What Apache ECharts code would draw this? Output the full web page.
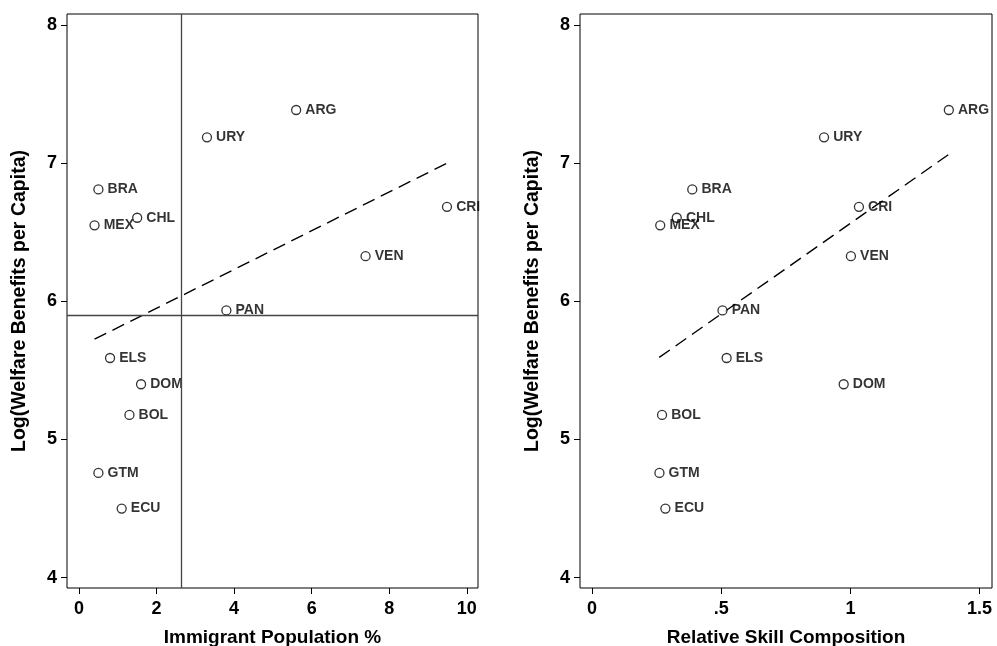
<!DOCTYPE html>
<html>
<head>
<meta charset="utf-8" />
<title>Welfare benefits</title>
<script src="https://cdn.jsdelivr.net/npm/echarts@6/dist/echarts.min.js"></script>
<style>
  html, body { margin: 0; padding: 0; background: #fff; }
  #chart { width: 997px; height: 646px; }
</style>
</head>
<body>
<div id="chart"></div>
<script>
// country codes
var countries = ['ARG', 'URY', 'BRA', 'CHL', 'MEX', 'CRI', 'VEN', 'PAN', 'ELS', 'DOM', 'BOL', 'GTM', 'ECU'];
// log welfare benefits per capita
var logWelfare = [7.385, 7.187, 6.81, 6.605, 6.55, 6.684, 6.327, 5.934, 5.59, 5.40, 5.178, 4.758, 4.50];
// immigrant population %
var immigPct = [5.60, 3.30, 0.50, 1.50, 0.40, 9.49, 7.39, 3.80, 0.80, 1.60, 1.30, 0.50, 1.10];
// relative skill composition
var skillComp = [1.381, 0.898, 0.388, 0.328, 0.264, 1.033, 1.002, 0.505, 0.521, 0.974, 0.271, 0.261, 0.284];

// fitted lines (endpoints)
var fitLeft = [[0.40, 5.726], [9.51, 7.003]];
var fitRight = [[0.260, 5.594], [1.381, 7.064]];

// reference lines on the left panel
var refX = 2.64;
var refY = 5.90;

var yTicks = [4, 5, 6, 7, 8];
var xTicksLeft = [0, 2, 4, 6, 8, 10];
var xTicksRight = [0, 0.5, 1, 1.5];

function pts(xs) {
  var res = [];
  for (var i = 0; i < countries.length; i++) {
    res.push({ name: countries[i], value: [xs[i], logWelfare[i]] });
  }
  return res;
}

var font = '"Liberation Sans", Arial, Helvetica, sans-serif';

function xAxis(idx, min, max, ticks, title, fmt) {
  return {
    type: 'value', gridIndex: idx, min: min, max: max,
    name: title, nameLocation: 'middle', nameGap: 40,
    nameTextStyle: { fontFamily: font, fontWeight: 'bold', fontSize: 19, color: '#000' },
    axisLine: { show: false, onZero: false },
    splitLine: { show: false },
    axisTick: { show: true, inside: false, customValues: ticks, length: 6, lineStyle: { color: '#000', width: 1 } },
    axisLabel: { customValues: ticks, fontFamily: font, fontWeight: 'bold', fontSize: 18, color: '#000', margin: 12, formatter: fmt }
  };
}

function yAxis(idx) {
  return {
    type: 'value', gridIndex: idx, min: 3.925, max: 8.08,
    name: 'Log(Welfare Benefits per Capita)', nameLocation: 'middle', nameGap: 37,
    nameTextStyle: { fontFamily: font, fontWeight: 'bold', fontSize: 19.5, color: '#000' },
    axisLine: { show: false, onZero: false },
    splitLine: { show: false },
    axisTick: { show: true, inside: false, customValues: yTicks, length: 6, lineStyle: { color: '#000', width: 1 } },
    axisLabel: { customValues: yTicks, fontFamily: font, fontWeight: 'bold', fontSize: 18, color: '#000', margin: 10 }
  };
}

function scatter(idx, xs, extra) {
  var s = {
    type: 'scatter', xAxisIndex: idx, yAxisIndex: idx,
    data: pts(xs),
    symbol: 'circle', symbolSize: 9,
    itemStyle: { color: '#fff', borderColor: '#000', borderWidth: 1.3 },
    label: {
      show: true, position: 'right', distance: 4, offset: [0, 2],
      formatter: '{b}', fontFamily: font, fontWeight: 'bold', fontSize: 14, color: '#000'
    },
    labelLayout: { hideOverlap: false },
    z: 3
  };
  if (extra) s.markLine = extra;
  return s;
}

function fit(idx, d) {
  return {
    type: 'line', xAxisIndex: idx, yAxisIndex: idx, data: d,
    symbol: 'none', silent: true,
    lineStyle: { color: '#000', width: 1.4, type: [13, 7] }, z: 2
  };
}

var chart = echarts.init(document.getElementById('chart'));
chart.setOption({
  animation: false,
  backgroundColor: '#fff',
  grid: [
    { left: 67, right: 519, top: 14, bottom: 58, show: true, borderColor: '#000', borderWidth: 1, backgroundColor: 'transparent', outerBoundsMode: 'none', containLabel: false },
    { left: 580, right: 5, top: 14, bottom: 58, show: true, borderColor: '#000', borderWidth: 1, backgroundColor: 'transparent', outerBoundsMode: 'none', containLabel: false }
  ],
  xAxis: [
    xAxis(0, -0.31, 10.29, xTicksLeft, 'Immigrant Population %'),
    xAxis(1, -0.0465, 1.548, xTicksRight, 'Relative Skill Composition', function (v) {
      return v === 0.5 ? '.5' : String(v);
    })
  ],
  yAxis: [yAxis(0), yAxis(1)],
  series: [
    scatter(0, immigPct, {
      silent: true, symbol: 'none', label: { show: false },
      lineStyle: { color: '#444', width: 1.3, type: 'solid' },
      data: [{ xAxis: refX }, { yAxis: refY }]
    }),
    fit(0, fitLeft),
    scatter(1, skillComp),
    fit(1, fitRight)
  ]
});
</script>
</body>
</html>
